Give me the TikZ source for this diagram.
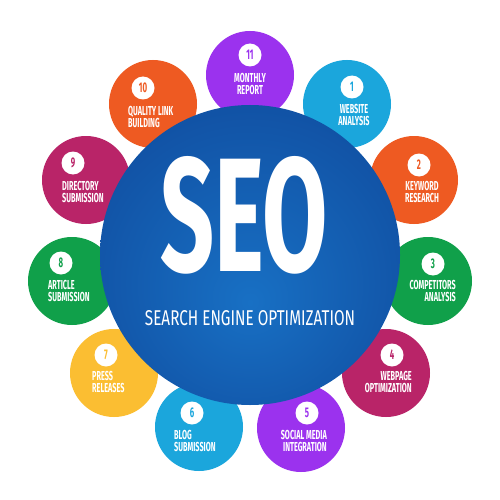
\documentclass[tikz,border=0pt]{standalone}
\usepackage{fontspec}
\setmainfont{Fira Sans}
\newfontfamily\cond[FakeStretch=0.56]{Fira Sans}
\definecolor{cpurple}{RGB}{155,50,238}
\definecolor{ccyan}{RGB}{27,166,220}
\definecolor{corange}{RGB}{238,90,34}
\definecolor{cgreen}{RGB}{16,160,74}
\definecolor{cmagenta}{RGB}{185,36,104}
\definecolor{cyellow}{RGB}{251,190,50}
\definecolor{seoin}{RGB}{24,112,196}
\definecolor{seoout}{RGB}{12,60,142}
\pgfdeclareradialshading{seoshade}{\pgfpoint{0bp}{-8bp}}{color(0bp)=(seoin); color(50bp)=(seoout)}
\tikzset{
  bub/.style={circle, minimum size=88pt, inner sep=0pt, fill=#1},
  badge/.style={circle, fill=white, minimum size=23pt, inner sep=0pt, text=#1,
    font=\cond\bfseries\fontsize{14}{14}\selectfont},
  lbl/.style={text=white, inner sep=0pt, font=\cond\bfseries\fontsize{13}{12}\selectfont},
}
\begin{document}
\begin{tikzpicture}[x=1pt,y=-1pt]
\fill[white] (0,0) rectangle (500,500);
\useasboundingbox (0,0) rectangle (500,500);
% bubbles
\node[bub=cpurple]  (c11) at (250,75) {};
\node[bub=ccyan]    (c1)  at (347,104) {};
\node[bub=corange]  (c2)  at (414,180) {};
\node[bub=cgreen]   (c3)  at (428,281) {};
\node[bub=cmagenta] (c4)  at (386,373) {};
\node[bub=cpurple]  (c5)  at (301,428) {};
\node[bub=ccyan]    (c6)  at (199,427) {};
\node[bub=cyellow]  (c7)  at (114,373) {};
\node[bub=cgreen]   (c8)  at (72,281) {};
\node[bub=cmagenta] (c9)  at (86,180) {};
\node[bub=corange]  (c10) at (153,104) {};
% badges
\node[badge=cpurple]  (b11) at (250,55) {11};
\node[badge=ccyan]    (b1)  at (352,87) {1};
\node[badge=corange]  (b2)  at (419,165) {2};
\node[badge=cgreen]   (b3)  at (433,264) {3};
\node[badge=cmagenta] (b4)  at (392,355) {4};
\node[badge=cpurple]  (b5)  at (307,413) {5};
\node[badge=ccyan]    (b6)  at (192,413) {6};
\node[badge=cyellow]  (b7)  at (106,355) {7};
\node[badge=cgreen]   (b8)  at (61,263) {8};
\node[badge=cmagenta] (b9)  at (73,163) {9};
\node[badge=corange]  (b10) at (143,88) {10};
% labels
\node[lbl, align=center] (t11) at (250,84) {MONTHLY\\REPORT};
\node[lbl, align=center] (t1) at (354,115) {WEBSITE\\ANALYSIS};
\node[lbl, align=center] (t2) at (422,192) {KEYWORD\\RESEARCH};
\node[lbl, align=right, anchor=east] (t3) at (456,291) {COMPETITORS\\ANALYSIS};
\node[lbl, align=right, anchor=east] (t4) at (412,382) {WEBPAGE\\OPTIMIZATION};
\node[lbl, align=right, anchor=east] (t5) at (327,441) {SOCIAL MEDIA\\INTEGRATION};
\node[lbl, align=left, anchor=west] (t6) at (174,441) {BLOG\\SUBMISSION};
\node[lbl, align=left, anchor=west] (t7) at (92,382) {PRESS\\RELEASES};
\node[lbl, align=left, anchor=west] (t8) at (48,291) {ARTICLE\\SUBMISSION};
\node[lbl, align=left, anchor=west] (t9) at (62,192) {DIRECTORY\\SUBMISSION};
\node[lbl, align=left, anchor=west] (t10) at (128,116.5) {QUALITY LINK\\BUILDING};
% central circle
\node[circle, minimum size=300pt, inner sep=0pt, shading=seoshade] (seo) at (250,255) {};
\node[text=white, inner sep=0pt] (seot) at (244,215.5) {\resizebox{168pt}{115pt}{\bfseries SEO}};
\node[text=white, inner sep=0pt] (seos) at (250,318) {\resizebox{210pt}{15pt}{SEARCH ENGINE OPTIMIZATION}};
\end{tikzpicture}
\end{document}
